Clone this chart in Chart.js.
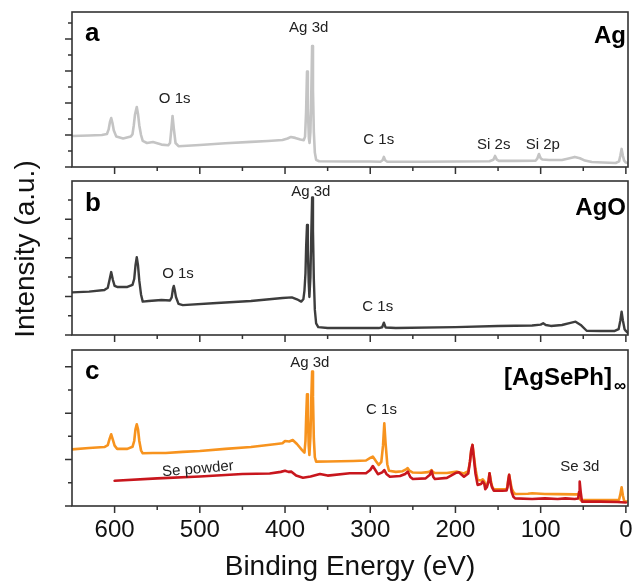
<!DOCTYPE html>
<html><head><meta charset="utf-8">
<script src="https://cdn.jsdelivr.net/npm/chart.js@4.4.0/dist/chart.umd.min.js"></script>
<style>
html,body{margin:0;padding:0;background:#fff;}
#wrap{position:relative;width:636px;height:587px;overflow:hidden;}
#wrap canvas{position:absolute;left:0;top:0;}
</style></head><body>
<div id="wrap">
<canvas id="cA" width="636" height="587"></canvas>
<canvas id="cB" width="636" height="587"></canvas>
<canvas id="cC" width="636" height="587"></canvas>
</div>
<script>
// ---------------- DATA ----------------
// Panel a: Ag
const beAg = [650,630,615,609,607,605.5,604,602.5,601,598,
  590,581,579,577.5,576,574,572.5,571,569,567,
  562,555,545,537,535,533.5,532,530.5,528.5,525,
  500,470,440,420,403,397,393,388,382,378,
  376.5,375.3,374.2,373.2,372,371.2,370.2,369.2,368.2,367.2,
  366.2,365,363.5,360,330,300,288,285.5,284,282.5,
  280,240,200,160,155.5,153.5,151.5,149,130,106,
  104,102,100,98,90,75,66,60,54,48,
  40,27,12,8,6.5,5,3.5,2,0,-2.5];
const intAg = [1.94,1.97,2.0,2.06,2.35,2.8,3.06,2.75,2.3,1.9,
  1.78,1.9,2.05,2.6,3.3,3.75,3.3,2.6,2.0,1.63,
  1.5,1.56,1.4,1.36,1.5,2.3,3.19,2.4,1.5,1.3,
  1.38,1.48,1.57,1.63,1.69,1.78,1.88,1.82,1.72,1.68,
  1.9,3.4,5.96,3.6,1.8,1.5,2.2,4.5,7.56,4.8,
  2.2,0.9,0.45,0.36,0.34,0.34,0.33,0.42,0.63,0.42,
  0.33,0.33,0.34,0.36,0.45,0.69,0.46,0.38,0.38,0.39,
  0.52,0.81,0.55,0.47,0.44,0.44,0.55,0.63,0.55,0.4,
  0.31,0.28,0.25,0.35,0.7,1.13,0.7,0.4,0.28,0.25];

// Panel b: AgO
const beAgO = [650,630,612,608,606,604,602,600,597,585,
  579,577,575.5,574,572.5,571,569,567,560,545,
  535,533,531.5,530.5,529.5,528,525,520,480,440,
  403,392,386,381,378.5,377.2,376,375.2,374.2,373.2,
  372.2,371.4,370.2,369.2,368.2,367.2,366.2,365,363.5,361,
  350,290,286,284,282,270,200,150,110,100,
  97,94,88,75,65,59,53,46,30,13,
  8.5,6.5,5,3.5,1.5,0,-2.5];
const intAgO = [2.21,2.25,2.33,2.45,2.85,3.26,2.85,2.55,2.49,2.49,
  2.6,2.9,3.6,4.03,3.6,2.8,2.1,1.73,1.76,1.81,
  1.79,1.95,2.4,2.54,2.35,1.97,1.61,1.55,1.66,1.76,
  1.92,1.95,1.85,1.73,1.85,2.3,3.2,4.6,5.70,4.4,
  2.7,1.97,3.0,5.2,7.13,5.4,2.9,1.3,0.6,0.41,
  0.36,0.36,0.4,0.64,0.39,0.36,0.41,0.47,0.49,0.54,
  0.61,0.52,0.47,0.52,0.63,0.69,0.52,0.22,0.21,0.21,
  0.3,0.75,1.21,0.75,0.3,0.21,0.1];

// Panel c: [AgSePh]∞
const beAgSePh = [650,630,612,608,606,604,602,600,597,585,
  579,577,575.5,574,572.5,571,569,567,555,540,
  520,500,470,440,410,403,400,395,391,386,
  380,377.2,376,375.2,374.2,373.2,372.2,371.4,370.2,369.2,
  368.2,367.2,366.2,365,363.5,350,320,305,300,297,
  293,290,287,285,283.5,282,280,278,270,262,
  258,256,254,250,240,232,229.5,228,226.5,224,
  210,198,190,185,183,181.5,180,178.5,176.5,174,
  170,168,166,165,163,161,160,158.5,157,155,
  145,140,139,138,137,135.5,134,132,130,115,
  110,95,80,60,55.5,54.5,53,20,8,6.5,
  5,3.5,2,0,-2.5];
const intAgSePh = [2.44,2.50,2.54,2.62,2.88,3.09,2.85,2.6,2.46,2.46,
  2.55,2.8,3.3,3.52,3.3,2.8,2.4,2.27,2.28,2.28,
  2.33,2.37,2.46,2.54,2.67,2.70,2.80,2.78,2.84,2.67,
  2.41,2.3,2.8,3.8,4.81,3.9,2.6,2.2,3.0,4.6,
  5.79,4.7,2.9,2.1,1.91,1.92,1.94,1.96,2.07,2.13,
  1.92,1.77,1.9,2.6,3.56,2.7,1.8,1.52,1.47,1.5,
  1.58,1.63,1.52,1.44,1.43,1.46,1.5,1.55,1.47,1.42,
  1.42,1.48,1.4,1.5,1.9,2.4,2.63,2.2,1.6,1.12,
  1.1,1.15,1.05,0.81,0.9,1.15,1.41,1.1,0.85,0.72,
  0.72,0.73,0.85,1.15,1.34,1.05,0.75,0.6,0.52,0.53,
  0.55,0.52,0.51,0.5,0.5,0.35,0.26,0.26,0.27,0.5,
  0.81,0.45,0.22,0.19,0.19];

// Panel c: Se powder
const beSe = [600,550,500,450,418,405,400,396,392.5,387,
  379,370,359,350,324,305,300,297,294,291,
  286,283.5,281,277,265,259,256,253,250,235,
  230,228,226,224,210,200,196,190,185,183,
  181.5,180,178.5,176.5,174,170,168,166,165,163,
  161,160,158.5,157,155,145,140,139,138,137,
  135.5,134,132,130,110,95,80,71,60,56,
  55,54.2,53,51.5,30,10,0];
const intSe = [1.09,1.19,1.27,1.38,1.40,1.47,1.52,1.47,1.48,1.31,
  1.22,1.27,1.38,1.31,1.41,1.41,1.55,1.72,1.55,1.37,
  1.45,1.55,1.38,1.26,1.29,1.38,1.48,1.25,1.16,1.19,
  1.35,1.51,1.25,1.16,1.21,1.42,1.45,1.26,1.4,1.9,
  2.4,2.63,2.1,1.4,0.91,0.95,1.05,0.95,0.72,0.82,
  1.1,1.41,1.0,0.8,0.66,0.66,0.67,0.8,1.1,1.34,
  0.95,0.6,0.4,0.33,0.3,0.33,0.3,0.33,0.3,0.32,
  0.6,1.05,0.6,0.19,0.19,0.17,0.15];

// Ticks
const xTickValues = [0,50,100,150,200,250,300,350,400,450,500,550,600];
const xTickLabels = [0,100,200,300,400,500,600];
const yTicksAg = [0,1,2,3,4,5,6,7,8,9];
const yTicksAgO = [0,1,2,3,4,5,6,7];
const yTicksAgSePh = [0,1,2,3,4,5,6];

// Peak labels: [text, binding energy, intensity]
const labelsAg = [["Ag 3d",372.2,8.69],["O 1s",529.5,4.23],["C 1s",290,1.69],["Si 2s",155,1.36],["Si 2p",97.5,1.36]];
const labelsAgO = [["Ag 3d",369.8,7.42],["O 1s",525.6,3.16],["C 1s",291.2,1.47]];
const labelsAgSePh = [["Ag 3d",371,6.15],["C 1s",286.8,4.14],["Se 3d",54,1.69]];
const labelSePowder = ["Se powder",502.2,1.59];

// ---------------- DRAWING ----------------
const FONT = "'Liberation Sans', Arial, Helvetica, sans-serif";
const AXIS = '#333';
const zip = (xs, ys) => xs.map((x, i) => ({x: x, y: ys[i]}));

function makeDeco(cfg) {
  return {
    id: 'deco' + cfg.key,
    afterDraw(chart) {
      const ctx = chart.ctx, a = chart.chartArea, x = chart.scales.x, y = chart.scales.y;
      ctx.save();
      ctx.strokeStyle = AXIS;
      ctx.lineWidth = 1.5;
      ctx.beginPath();
      xTickValues.forEach(v => {
        const p = x.getPixelForValue(v);
        const len = (v % 100 === 0) ? 7 : 4;
        ctx.moveTo(p, a.bottom); ctx.lineTo(p, a.bottom + len);
      });
      cfg.yTicks.forEach(v => {
        const p = y.getPixelForValue(v);
        const len = (v % 2 === 0) ? 7 : 4;
        ctx.moveTo(a.left, p); ctx.lineTo(a.left - len, p);
      });
      ctx.stroke();
      ctx.lineWidth = 1.6;
      ctx.strokeRect(a.left, a.top, a.right - a.left, a.bottom - a.top);

      // panel letter
      ctx.fillStyle = '#000';
      ctx.textBaseline = 'alphabetic';
      ctx.textAlign = 'left';
      ctx.font = 'bold 26px ' + FONT;
      ctx.fillText(cfg.letter, a.left + 13, a.top + cfg.letterBase);
      // sample name
      ctx.textAlign = 'right';
      ctx.font = 'bold 24px ' + FONT;
      if (cfg.sub) {
        ctx.fillText(cfg.name, a.right - 16, a.top + cfg.nameBase);
        ctx.font = 'bold 17px ' + FONT;
        ctx.fillText(cfg.sub, a.right - 2, a.top + cfg.nameBase + 6);
      } else {
        ctx.fillText(cfg.name, a.right - 2, a.top + cfg.nameBase);
      }
      // peak labels
      ctx.fillStyle = '#222';
      ctx.textAlign = 'center';
      ctx.textBaseline = 'middle';
      ctx.font = '15px ' + FONT;
      cfg.labels.forEach(l => {
        ctx.fillText(l[0], x.getPixelForValue(l[1]), y.getPixelForValue(l[2]));
      });
      if (cfg.rotLabel) {
        const l = cfg.rotLabel;
        ctx.save();
        ctx.translate(x.getPixelForValue(l[1]), y.getPixelForValue(l[2]));
        ctx.rotate(-5 * Math.PI / 180);
        ctx.fillText(l[0], 0, 0);
        ctx.restore();
      }
      if (cfg.yTitle) {
        ctx.save();
        ctx.fillStyle = '#111';
        ctx.font = '28px ' + FONT;
        ctx.translate(a.left - 46, a.top + 68);
        ctx.rotate(-Math.PI / 2);
        ctx.fillText(cfg.yTitle, 0, 0);
        ctx.restore();
      }
      ctx.restore();
    }
  };
}

function makePanel(id, datasets, cfg) {
  return new Chart(document.getElementById(id), {
    type: 'line',
    data: {datasets: datasets},
    options: {
      responsive: false,
      animation: false,
      devicePixelRatio: 1,
      layout: {padding: {left: 64, right: 8, top: cfg.padTop, bottom: cfg.padBottom}},
      plugins: {legend: {display: false}, tooltip: {enabled: false}, title: {display: false}},
      elements: {point: {radius: 0}, line: {tension: 0, borderJoinStyle: 'round', borderCapStyle: 'round'}},
      scales: {
        x: {
          type: 'linear', reverse: true, min: -2.5, max: 650,
          afterBuildTicks: s => { s.ticks = xTickValues.map(v => ({value: v})); },
          afterFit: s => { s.height = cfg.xHeight; },
          grid: {display: true, drawOnChartArea: false, drawTicks: true, tickLength: 7, color: 'rgba(0,0,0,0)'},
          border: {display: false},
          ticks: {
            display: cfg.showX, autoSkip: false, maxRotation: 0, minRotation: 0, padding: 3,
            color: '#111', font: {family: FONT, size: 24},
            callback: v => xTickLabels.includes(v) ? String(v) : ''
          },
          title: {
            display: cfg.showX, text: 'Binding Energy (eV)', color: '#111',
            font: {family: FONT, size: 28}, padding: {top: 0, bottom: 3}
          }
        },
        y: {
          type: 'linear', min: 0, max: cfg.yMax,
          afterBuildTicks: s => { s.ticks = cfg.yTicks.map(v => ({value: v})); },
          afterFit: s => { s.width = 8; },
          grid: {display: false},
          border: {display: false},
          ticks: {display: false}
        }
      }
    },
    plugins: [makeDeco(cfg)]
  });
}

makePanel('cA', [
  {data: zip(beAg, intAg), borderColor: '#c4c4c4', borderWidth: 2.6, fill: false}
], {key: 'A', padTop: 12, padBottom: 412, xHeight: 8, showX: false, yMax: 9.69, yTicks: yTicksAg,
    letter: 'a', letterBase: 29, name: 'Ag', nameBase: 31, labels: labelsAg});

makePanel('cB', [
  {data: zip(beAgO, intAgO), borderColor: '#3d3d3d', borderWidth: 2.4, fill: false}
], {key: 'B', padTop: 181, padBottom: 244, xHeight: 8, showX: false, yMax: 7.98, yTicks: yTicksAgO,
    letter: 'b', letterBase: 30, name: 'AgO', nameBase: 34, labels: labelsAgO, yTitle: 'Intensity (a.u.)'});

makePanel('cC', [
  {data: zip(beSe, intSe), borderColor: '#c8161d', borderWidth: 2.6, fill: false},
  {data: zip(beAgSePh, intAgSePh), borderColor: '#f7931e', borderWidth: 2.6, fill: false}
], {key: 'C', padTop: 350, padBottom: 0, xHeight: 81, showX: true, yMax: 6.72, yTicks: yTicksAgSePh,
    letter: 'c', letterBase: 29, name: '[AgSePh]', sub: '\u221E', nameBase: 35, labels: labelsAgSePh,
    rotLabel: labelSePowder});
</script>
</body></html>
